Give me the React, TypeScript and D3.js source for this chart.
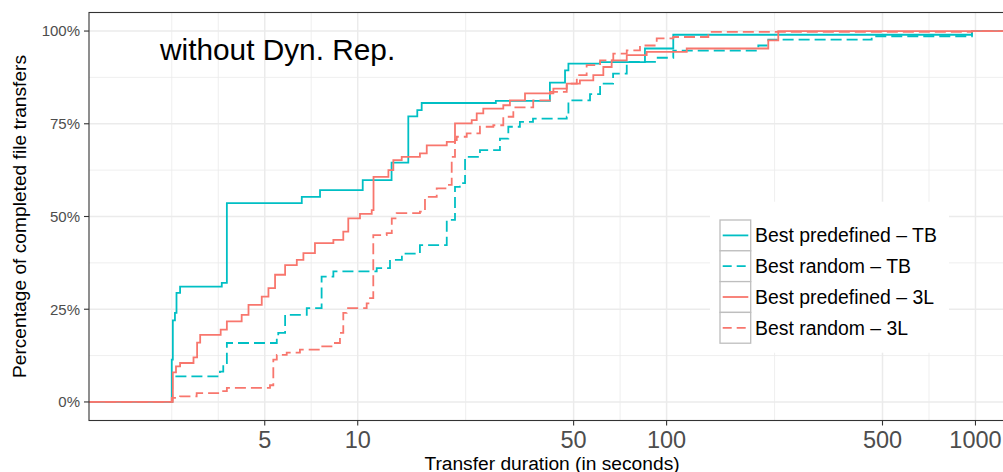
import React from "react";
import * as d3 from "d3";

// [transfer duration in seconds, cumulative % of completed transfers]
const predefinedTB: [number, number][] = [
  [2.5, 11.4], [2.52, 22], [2.56, 24], [2.59, 29.4], [2.66, 31.1], [3.63, 32.1], [3.77, 53.6],
  [6.59, 55.3], [7.55, 57.1], [10.38, 59.8], [12.87, 64.5], [14.58, 77.0], [15.59, 78.7],
  [16.11, 80.6], [28, 81.2], [41.9, 86.1], [46.9, 89.4], [48.1, 91.2], [60.9, 91.6],
  [85.1, 95.3], [105.1, 99.0], [974, 100],
];
const randomTB: [number, number][] = [
  [2.51, 6.9], [3.58, 8.2], [3.67, 10.5], [3.77, 15.9], [5.47, 16.8], [5.53, 18.6], [5.82, 23.5],
  [6.84, 25.3], [7.64, 33.8], [8.34, 35.2], [11.52, 36.1], [12.72, 38.3], [13.9, 40.0],
  [15.9, 42.3], [19.42, 49.1], [20.65, 58.0], [21.4, 59.0], [22.26, 66.1], [24.87, 67.9],
  [28.87, 71.0], [30.73, 74.2], [33.5, 75.5], [36.94, 76.4], [47.5, 76.9], [48.1, 81.3],
  [56.5, 83.0], [60.9, 85.8], [67.1, 88.5], [74.3, 91.7], [92.9, 92.8], [105.1, 94.7],
  [198.1, 96.1], [213.4, 97.7], [461.3, 98.6], [974, 100],
];
const predefined3L: [number, number][] = [
  [2.52, 8], [2.58, 9.6], [2.66, 10.5], [2.94, 12], [3.02, 16], [3.09, 18.1], [3.6, 19.5],
  [3.77, 21.7], [4.21, 23.5], [4.43, 26.2], [4.89, 28.4], [5.14, 30.7], [5.4, 34.3],
  [5.82, 36.9], [6.35, 38.3], [6.67, 40.1], [7.27, 42.8], [8.34, 43.7], [8.98, 45.9],
  [9.32, 49.5], [10.17, 50.7], [11.1, 51.7], [11.25, 60.7], [12.57, 62.5], [13.04, 65.2],
  [13.88, 66.1], [15.9, 67.0], [16.73, 69.2], [19.42, 70.1], [20.65, 75.1], [23.39, 76.0],
  [24.28, 77.8], [25.5, 79.1], [29.6, 80.0], [31.1, 81.3], [34.8, 83.2], [43.0, 84.5],
  [47.5, 85.8], [52.4, 86.7], [57.9, 88.1], [62.4, 90.3], [66.4, 92.1], [74.3, 93.5],
  [86.2, 94.4], [116.2, 95.3], [213.4, 97.5], [229.9, 100],
];
const random3L: [number, number][] = [
  [2.5, 1.1], [2.66, 1.5], [3.01, 2.4], [3.58, 2.9], [3.77, 3.8], [5.2, 4.5], [5.33, 11.4],
  [5.47, 12.7], [5.89, 13.3], [6.5, 14.1], [7.55, 15.0], [8.34, 15.9], [8.76, 18.6],
  [8.98, 24.0], [9.21, 25.3], [10.69, 26.6], [10.96, 28.0], [11.23, 45.0], [12.41, 45.5],
  [12.89, 49.5], [13.37, 50.9], [15.9, 51.3], [16.51, 55.3], [18.02, 57.6], [19.42, 58.5],
  [20.15, 66.1], [20.65, 70.6], [20.92, 71.5], [22.54, 72.4], [24.87, 74.2], [27.48, 74.6],
  [29.6, 76.9], [31.9, 79.4], [37.0, 81.3], [41.9, 83.6], [47.5, 85.8], [51.2, 88.1],
  [55.1, 90.8], [60.9, 92.1], [67.2, 93.9], [74.3, 94.8], [82.0, 96.1], [92.9, 98.0],
  [105.1, 98.4], [136.5, 99.8], [974, 100],
];

const seriesNames = [
  "Best predefined \u2013 TB",
  "Best random \u2013 TB",
  "Best predefined \u2013 3L",
  "Best random \u2013 3L",
];
const seriesData = [predefinedTB, randomTB, predefined3L, random3L];
const seriesColors = ["#00BFC4", "#00BFC4", "#F8766D", "#F8766D"];
const seriesDashed = [false, true, false, true];

const xMajorTicks = [5, 10, 50, 100, 500, 1000];
const xMinorTicks = [2.5, 3.536, 7.071, 22.36, 70.71, 223.6, 707.1];
const yMajorTicks = [0, 25, 50, 75, 100];
const yMinorTicks = [12.5, 37.5, 62.5, 87.5];

const annotation = "without Dyn. Rep.";
const xTitle = "Transfer duration (in seconds)";
const yTitle = "Percentage of completed file transfers";

const W = 1003;
const H = 472;
const P = { left: 89, right: 1015, top: 12.5, bottom: 420.5 };
const FONT = "'Liberation Sans', Arial, Helvetica, sans-serif";

export default function App() {
  const x = d3.scaleLog().domain([1.349, 1342.6]).range([P.left, P.right]);
  const y = d3.scaleLinear().domain([-5, 105]).range([P.bottom, P.top]);
  const [xmin, xmax] = x.domain();

  const line = d3
    .line<[number, number]>()
    .x((d) => x(d[0]))
    .y((d) => y(d[1]))
    .curve(d3.curveStepAfter);

  const legendX = 710;
  const legendY = 201.7;
  const keyX = 720;
  const keyY = 220;
  const keyW = 30.7;
  const keyH = 30.8;

  return (
    <svg
      width={W}
      height={H}
      style={{ position: "absolute", left: 0, top: 0, background: "#fff" }}
      fontFamily={FONT}
    >
      <defs>
        <clipPath id="panel">
          <rect x={P.left} y={P.top} width={P.right - P.left} height={P.bottom - P.top} />
        </clipPath>
      </defs>
      <rect x={0} y={0} width={W} height={H} fill="#fff" />
      {/* grid */}
      <g clipPath="url(#panel)">
        {yMinorTicks.map((t) => (
          <line key={"ym" + t} x1={P.left} x2={P.right} y1={y(t)} y2={y(t)} stroke="#EBEBEB" strokeWidth={0.8} />
        ))}
        {xMinorTicks.map((t) => (
          <line key={"xm" + t} x1={x(t)} x2={x(t)} y1={P.top} y2={P.bottom} stroke="#EBEBEB" strokeWidth={0.8} />
        ))}
        {yMajorTicks.map((t) => (
          <line key={"yM" + t} x1={P.left} x2={P.right} y1={y(t)} y2={y(t)} stroke="#EBEBEB" strokeWidth={1.5} />
        ))}
        {xMajorTicks.map((t) => (
          <line key={"xM" + t} x1={x(t)} x2={x(t)} y1={P.top} y2={P.bottom} stroke="#EBEBEB" strokeWidth={1.5} />
        ))}
        {/* series */}
        {seriesData.map((data, i) => {
          const pts: [number, number][] = [[xmin, 0], ...data, [xmax, 100]];
          return (
            <path
              key={seriesNames[i]}
              d={line(pts) || ""}
              fill="none"
              stroke={seriesColors[i]}
              strokeWidth={1.8}
              strokeDasharray={seriesDashed[i] ? "11 5" : undefined}
            />
          );
        })}
      </g>
      <text x={160} y={60} fontSize={29.8} fill="#000">
        {annotation}
      </text>
      {/* legend */}
      <rect x={legendX} y={legendY} width={239} height={151} fill="#fff" />
      {seriesNames.map((name, i) => {
        const ky = keyY + i * keyH;
        const cy = ky + keyH / 2;
        return (
          <g key={"leg" + i}>
            <rect x={keyX} y={ky} width={keyW} height={keyH} fill="#fff" stroke="#BEBEBE" strokeWidth={1.3} />
            <line
              x1={keyX + 2.7}
              x2={keyX + keyW - 2.4}
              y1={cy}
              y2={cy}
              stroke={seriesColors[i]}
              strokeWidth={1.8}
              strokeDasharray={seriesDashed[i] ? "9 5" : undefined}
            />
            <text x={755} y={cy} dy="0.36em" fontSize={19.4} fill="#000">
              {name}
            </text>
          </g>
        );
      })}
      {/* panel border */}
      <rect
        x={P.left}
        y={P.top}
        width={P.right - P.left}
        height={P.bottom - P.top}
        fill="none"
        stroke="#333333"
        strokeWidth={1.1}
      />
      {/* axes ticks */}
      {yMajorTicks.map((t) => (
        <g key={"yt" + t}>
          <line x1={P.left - 5} x2={P.left} y1={y(t)} y2={y(t)} stroke="#333333" strokeWidth={1.1} />
          <text x={80} y={y(t)} dy="0.36em" textAnchor="end" fontSize={15} fill="#4D4D4D">
            {t + "%"}
          </text>
        </g>
      ))}
      {xMajorTicks.map((t) => (
        <g key={"xt" + t}>
          <line x1={x(t)} x2={x(t)} y1={P.bottom} y2={P.bottom + 5} stroke="#333333" strokeWidth={1.1} />
          <text x={x(t)} y={448.3} textAnchor="middle" fontSize={23.5} fill="#4D4D4D">
            {String(t)}
          </text>
        </g>
      ))}
      <text x={(P.left + P.right) / 2} y={469.5} textAnchor="middle" fontSize={19.2} fill="#000">
        {xTitle}
      </text>
      <text
        transform={`translate(25.5, ${(P.top + P.bottom) / 2}) rotate(-90)`}
        textAnchor="middle"
        fontSize={19.2}
        fill="#000"
      >
        {yTitle}
      </text>
    </svg>
  );
}
